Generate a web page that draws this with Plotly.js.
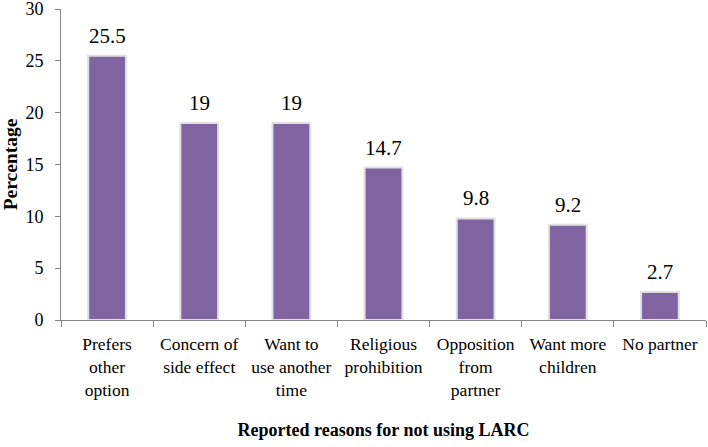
<!DOCTYPE html>
<html>
<head>
<meta charset="utf-8">
<script src="https://cdn.plot.ly/plotly-3.0.1.min.js"></script>
<style>html,body{margin:0;padding:0;background:#fff;}#chart{width:708px;height:447px;}</style>
</head>
<body>
<div id="chart"></div>
<script>
const categories = ["Prefers<br>other<br>option", "Concern of<br>side effect", "Want to<br>use another<br>time", "Religious<br>prohibition", "Opposition<br>from<br>partner", "Want more<br>children", "No partner"];
const percentages = [25.5, 19, 19, 14.7, 9.8, 9.2, 2.7];
const yTicks = [0, 5, 10, 15, 20, 25, 30];
const xTitle = "Reported reasons for not using LARC";
const yTitle = "Percentage";

const serif = "Liberation Serif, Times New Roman, serif";

const valueLabels = percentages.map((v, i) => ({
  x: categories[i], y: v, xref: "x", yref: "y",
  text: String(v), showarrow: false,
  yanchor: "bottom", xanchor: "center", yshift: 6,
  font: {family: serif, size: 21, color: "#000"}
}));

Plotly.newPlot("chart", [{
  type: "bar",
  x: categories,
  y: percentages,
  marker: {color: "#8064A2", line: {color: "#e0e0e0", width: 2}},
  width: 0.41,
  hoverinfo: "x+y"
}], {
  width: 708, height: 447,
  margin: {l: 61, r: 2, t: 9, b: 127},
  paper_bgcolor: "#fff", plot_bgcolor: "#fff",
  font: {family: serif, size: 17, color: "#000"},
  showlegend: false,
  annotations: valueLabels,
  xaxis: {
    type: "category",
    showline: true, linecolor: "#868686", linewidth: 1,
    ticks: "outside", tickson: "boundaries", ticklen: 6, tickcolor: "#868686",
    tickfont: {family: serif, size: 17.5, color: "#000"},
    ticklabelstandoff: 8,
    automargin: false, ticklabeloverflow: "allow",
    title: {text: xTitle, font: {family: serif, size: 18, color: "#000", weight: "bold"}, standoff: 24}
  },
  yaxis: {
    range: [0, 30], tickvals: yTicks,
    showline: true, linecolor: "#868686", linewidth: 1,
    ticks: "outside", ticklen: 5, tickcolor: "#868686",
    showgrid: false, zeroline: false,
    tickfont: {family: serif, size: 18, color: "#000"},
    ticklabelstandoff: 8,
    automargin: false, ticklabeloverflow: "allow",
    title: {text: yTitle, font: {family: serif, size: 19.5, color: "#000", weight: "bold"}, standoff: 12}
  }
}, {displayModeBar: false, staticPlot: true});
</script>
</body>
</html>
